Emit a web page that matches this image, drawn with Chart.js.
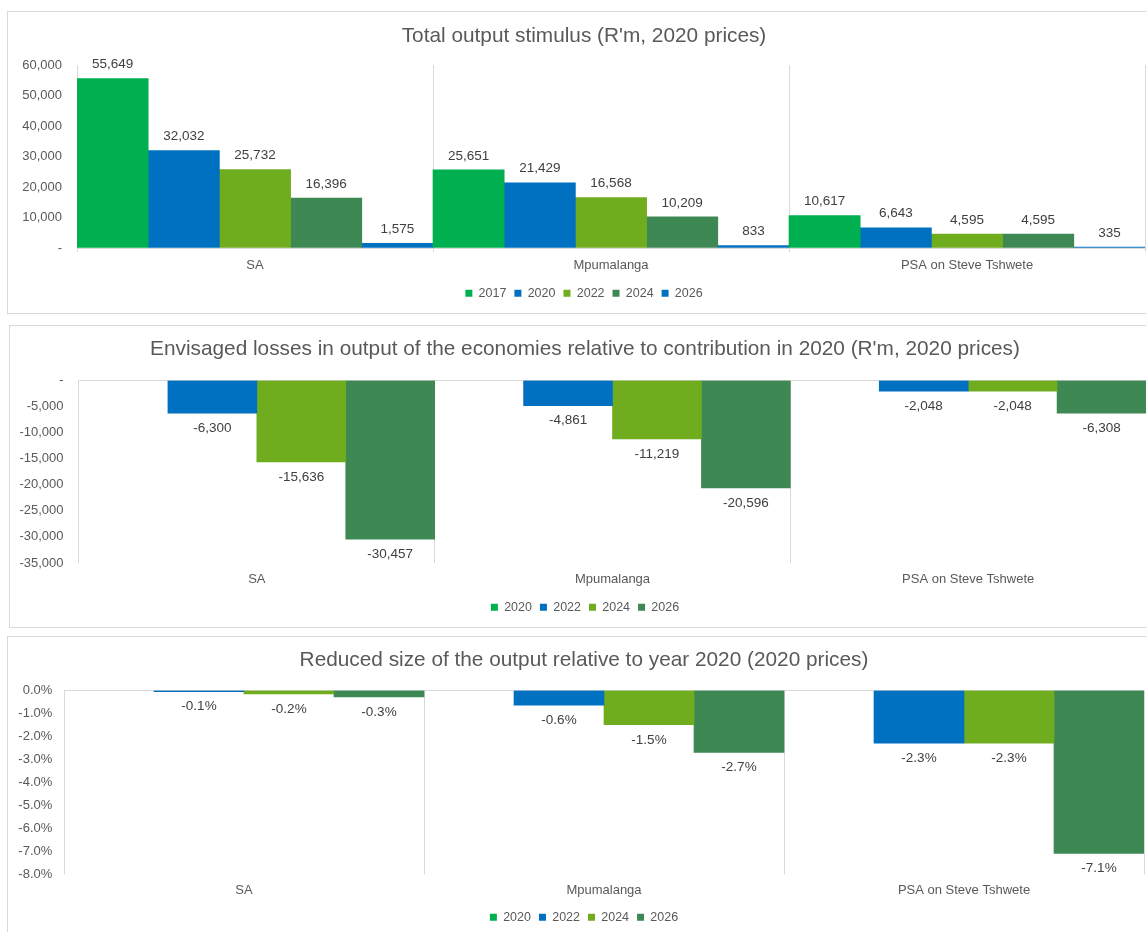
<!DOCTYPE html>
<html lang="en">
<head>
<meta charset="UTF-8">
<title>Output stimulus and envisaged losses</title>
<script src="https://cdn.jsdelivr.net/npm/chart.js"></script>
<style>
  body { margin: 0; background: #fff; width: 1146px; height: 932px; overflow: hidden; position: relative; }
  .box { position: absolute; border: 1px solid #d9d9d9; }
  canvas { position: absolute; }
</style>
</head>
<body>
<div class="box" style="left:7px;top:11px;width:1170px;height:301px"></div>
<div class="box" style="left:9px;top:325px;width:1170px;height:301px"></div>
<div class="box" style="left:7px;top:636px;width:1170px;height:310px"></div>
<canvas id="stimulus" width="1152" height="300" style="left:8px;top:12px"></canvas>
<canvas id="losses" width="1150" height="299" style="left:10px;top:327px"></canvas>
<canvas id="reduced" width="1152" height="297" style="left:8px;top:637px"></canvas>

<script>
  const regions = ['SA', 'Mpumalanga', 'PSA on Steve Tshwete'];

  // chart 1 - total output stimulus (R'm)
  const stimulusYears = ['2017', '2020', '2022', '2024', '2026'];
  const stimulus2017 = [55649, 25651, 10617];
  const stimulus2020 = [32032, 21429, 6643];
  const stimulus2022 = [25732, 16568, 4595];
  const stimulus2024 = [16396, 10209, 4595];
  const stimulus2026 = [1575, 833, 335];
  const stimulusTicks = [0, 10000, 20000, 30000, 40000, 50000, 60000];

  // chart 2 - envisaged losses (R'm), no 2020 bars
  const lossYears = ['2020', '2022', '2024', '2026'];
  const losses2020 = [null, null, null];
  const losses2022 = [-6300, -4861, -2048];
  const losses2024 = [-15636, -11219, -2048];
  const losses2026 = [-30457, -20596, -6308];
  const lossTicks = [-35000, -30000, -25000, -20000, -15000, -10000, -5000, 0];

  // chart 3 - reduced size of output (%)
  const reduced2020 = [null, null, null];
  const reduced2022 = [-0.06, -0.64, -2.3];
  const reduced2024 = [-0.16, -1.5, -2.3];
  const reduced2026 = [-0.29, -2.7, -7.1];
  const reducedTicks = [-8, -7, -6, -5, -4, -3, -2, -1, 0];

  const GREEN = '#00B050', BLUE = '#0070C0', LIME = '#6FAC1E', DARK = '#3D8853';
  const GREY = '#595959', LINE = '#d9d9d9';

  Chart.defaults.font.family = '"Liberation Sans", Arial, sans-serif';
  Chart.defaults.color = GREY;

  let fmtNum = v => v === 0 ? '-' : v.toLocaleString('en-US');
  let fmtPct = v => v.toFixed(1) + '%';

  // value labels above positive bars, below negative ones
  let valueLabels = function (fmt) {
    return {
      id: 'valueLabels',
      afterDatasetsDraw(chart) {
        let ctx = chart.ctx;
        ctx.save();
        ctx.font = '13.5px "Liberation Sans", Arial, sans-serif';
        ctx.fillStyle = '#404040';
        ctx.textAlign = 'center';
        ctx.textBaseline = 'middle';
        chart.data.datasets.forEach((ds, i) => {
          chart.getDatasetMeta(i).data.forEach((bar, j) => {
            let v = ds.data[j];
            if (v == null) return;
            ctx.fillText(fmt(v), bar.x, v >= 0 ? bar.y - 14 : bar.y + 15);
          });
        });
        ctx.restore();
      }
    };
  };

  let makeChart = function (id, o) {
    return new Chart(document.getElementById(id), {
      type: 'bar',
      data: {
        labels: regions,
        datasets: o.years.map((y, i) => ({
          label: y,
          data: o.series[i],
          backgroundColor: o.colors[i],
          categoryPercentage: 1,
          barPercentage: 1
        }))
      },
      options: {
        responsive: false,
        animation: false,
        layout: { padding: { left: 0, right: 0, top: 0, bottom: o.padBottom } },
        plugins: {
          title: {
            display: true, text: o.title, color: GREY,
            font: { size: 20.8, weight: 'normal' },
            padding: { top: o.titleTop, bottom: o.titleBottom }
          },
          legend: {
            position: 'bottom',
            labels: { boxWidth: 7, boxHeight: 7, padding: 8, color: GREY, font: { size: 12.5 } }
          },
          tooltip: { enabled: false }
        },
        scales: {
          x: {
            grid: { color: LINE, offset: true, drawTicks: o.xTick > 0, tickLength: o.xTick },
            border: { display: o.xBorder, color: LINE },
            ticks: { padding: o.xPad, color: GREY, font: { size: 13 } },
            afterFit: s => { s.height += o.xExtra; }
          },
          y: {
            min: o.ticks[0],
            max: o.ticks[o.ticks.length - 1],
            afterBuildTicks: s => { s.ticks = o.ticks.map(v => ({ value: v })); },
            afterFit: s => { s.width = o.yWidth; },
            grid: {
              color: c => (c.tick && c.tick.value === 0) ? LINE : 'rgba(0,0,0,0)',
              drawTicks: false
            },
            border: { display: false },
            ticks: { padding: o.yPad, color: GREY, font: { size: 13 }, callback: o.tickFmt }
          },
          // empty spacer on the right so title and legend centre like the original
          spacer: {
            type: 'linear', position: 'right',
            grid: { display: false }, border: { display: false }, ticks: { display: false },
            afterFit: s => { s.width = o.rightWidth; }
          }
        }
      },
      plugins: [valueLabels(o.labelFmt)]
    });
  };

  makeChart('stimulus', {
    title: "Total output stimulus (R'm, 2020 prices)",
    years: stimulusYears,
    series: [stimulus2017, stimulus2020, stimulus2022, stimulus2024, stimulus2026],
    colors: [GREEN, BLUE, LIME, DARK, BLUE],
    ticks: stimulusTicks,
    tickFmt: fmtNum, labelFmt: v => v.toLocaleString('en-US'),
    titleTop: 11.7, titleBottom: 16.7,
    xTick: 4, xPad: 6, xExtra: -0.6, xBorder: true,
    yWidth: 69, yPad: 15, rightWidth: 15, padBottom: 2.5
  });

  makeChart('losses', {
    title: "Envisaged losses in output of the economies relative to contribution in 2020 (R'm, 2020 prices)",
    years: lossYears,
    series: [losses2020, losses2022, losses2024, losses2026],
    colors: [GREEN, BLUE, LIME, DARK],
    ticks: lossTicks,
    tickFmt: fmtNum, labelFmt: v => v.toLocaleString('en-US'),
    titleTop: 9.7, titleBottom: 18.7,
    xTick: 0, xPad: 9, xExtra: -3.6, xBorder: false,
    yWidth: 69, yPad: 15.5, rightWidth: 14, padBottom: 2.5
  });

  makeChart('reduced', {
    title: 'Reduced size of the output relative to year 2020 (2020 prices)',
    years: lossYears,
    series: [reduced2020, reduced2022, reduced2024, reduced2026],
    colors: [GREEN, BLUE, LIME, DARK],
    ticks: reducedTicks,
    tickFmt: fmtPct, labelFmt: fmtPct,
    titleTop: 10.7, titleBottom: 17.7,
    xTick: 0, xPad: 9, xExtra: -4.6, xBorder: false,
    yWidth: 56, yPad: 11.7, rightWidth: 16, padBottom: 0.5
  });
</script>
</body>
</html>
